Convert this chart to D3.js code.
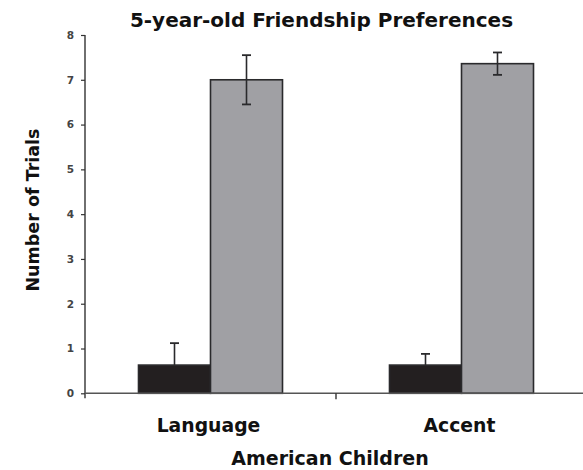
<!DOCTYPE html>
<html>
<head>
<meta charset="utf-8">
<script src="https://cdn.jsdelivr.net/npm/d3@7"></script>
<style>
  html, body { margin: 0; padding: 0; background: #fff; }
  svg { display: block; }
</style>
</head>
<body>
<svg id="chart" width="583" height="470"></svg>
<script>
// Friendship preference trials by condition
const categories = ["Language", "Accent"];
const groups = ["other", "native"];
const otherValues = [0.63, 0.63];
const nativeValues = [7.0, 7.36];
const otherErrors = [0.49, 0.25];
const nativeErrors = [0.55, 0.25];
const yTicks = [0, 1, 2, 3, 4, 5, 6, 7, 8];

const rows = categories.map((c, i) => ({
  category: c,
  bars: [
    { group: "other", value: otherValues[i], err: otherErrors[i] },
    { group: "native", value: nativeValues[i], err: nativeErrors[i] }
  ]
}));

const svg = d3.select("#chart");
const plotLeft = 85, plotRight = 587, plotTop = 35, plotBottom = 393.3;
const font = "DejaVu Sans, Verdana, sans-serif";

const x = d3.scaleBand().domain(categories).range([plotLeft, plotRight]).paddingInner(0).paddingOuter(0);
const xInner = d3.scaleBand().domain(groups).range([0, x.bandwidth()]).paddingOuter(0.743).paddingInner(0);
const y = d3.scaleLinear().domain([0, 8]).range([plotBottom, plotTop]);

const fill = { other: "#231f20", native: "#a0a0a4" };

// Bars
const g = svg.append("g");
const grp = g.selectAll("g.cat").data(rows).join("g")
  .attr("class", "cat")
  .attr("transform", d => `translate(${x(d.category)},0)`);

grp.selectAll("rect").data(d => d.bars).join("rect")
  .attr("x", d => xInner(d.group))
  .attr("width", xInner.bandwidth())
  .attr("y", d => y(d.value))
  .attr("height", d => y(0) - y(d.value))
  .attr("fill", d => fill[d.group])
  .attr("stroke", "#2a2a2c")
  .attr("stroke-width", 1.6);

// Error bars (the low-value bars only show the upper whisker)
const cap = 4.5;
grp.selectAll("g.err").data(d => d.bars).join("g")
  .attr("class", "err")
  .each(function(d) {
    const cx = xInner(d.group) + xInner.bandwidth() / 2;
    const e = d3.select(this);
    const y1 = y(d.value + d.err);
    const y0 = d.group === "other" ? y(d.value) : y(d.value - d.err);
    e.append("line").attr("x1", cx).attr("x2", cx).attr("y1", y1).attr("y2", y0)
      .attr("stroke", "#2a2a2c").attr("stroke-width", 1.6);
    e.append("line").attr("x1", cx - cap).attr("x2", cx + cap).attr("y1", y1).attr("y2", y1)
      .attr("stroke", "#2a2a2c").attr("stroke-width", 1.8);
    if (d.group !== "other") {
      e.append("line").attr("x1", cx - cap).attr("x2", cx + cap).attr("y1", y0).attr("y2", y0)
        .attr("stroke", "#2a2a2c").attr("stroke-width", 1.8);
    }
  });

// Y axis
const yAxis = d3.axisLeft(y).tickValues(yTicks).tickSize(4).tickPadding(7).tickFormat(d3.format("d"));
const ya = svg.append("g").attr("transform", `translate(${plotLeft},0)`).call(yAxis);
ya.select(".domain").attr("stroke", "#333").attr("stroke-width", 1.4).attr("d", `M0,${plotTop}V${plotBottom + 5}`);
ya.selectAll(".tick line").attr("stroke", "#333").attr("stroke-width", 1.2);
ya.selectAll(".tick text").attr("font-family", font)
  .attr("font-size", 10.5).attr("font-weight", "bold").attr("fill", "#444");

// X axis
const xa = svg.append("g").attr("transform", `translate(0,${plotBottom})`);
xa.append("line").attr("x1", plotLeft).attr("x2", plotRight).attr("y1", 0).attr("y2", 0)
  .attr("stroke", "#555").attr("stroke-width", 1.4);
const dividers = categories.slice(1).map(c => x(c));
xa.selectAll("line.div").data(dividers).join("line").attr("class", "div")
  .attr("x1", d => d).attr("x2", d => d).attr("y1", 0).attr("y2", 6)
  .attr("stroke", "#333").attr("stroke-width", 1.4);
xa.selectAll("text").data(categories).join("text")
  .attr("x", d => x(d) + x.bandwidth() / 2 - 2)
  .attr("y", 39)
  .attr("text-anchor", "middle")
  .attr("font-family", font)
  .attr("font-weight", "bold")
  .attr("font-size", 18.8)
  .attr("fill", "#111")
  .text(d => d);

// Titles
svg.append("text").attr("x", 321.5).attr("y", 27).attr("text-anchor", "middle")
  .attr("font-family", font).attr("font-weight", "bold").attr("font-size", 20)
  .attr("fill", "#111").text("5-year-old Friendship Preferences");
svg.append("text").attr("x", 330).attr("y", 465).attr("text-anchor", "middle")
  .attr("font-family", font).attr("font-weight", "bold").attr("font-size", 19)
  .attr("fill", "#111").text("American Children");
svg.append("text").attr("transform", "translate(39,210) rotate(-90)").attr("text-anchor", "middle")
  .attr("font-family", font).attr("font-weight", "bold").attr("font-size", 17.5)
  .attr("fill", "#111").text("Number of Trials");
</script>
</body>
</html>
